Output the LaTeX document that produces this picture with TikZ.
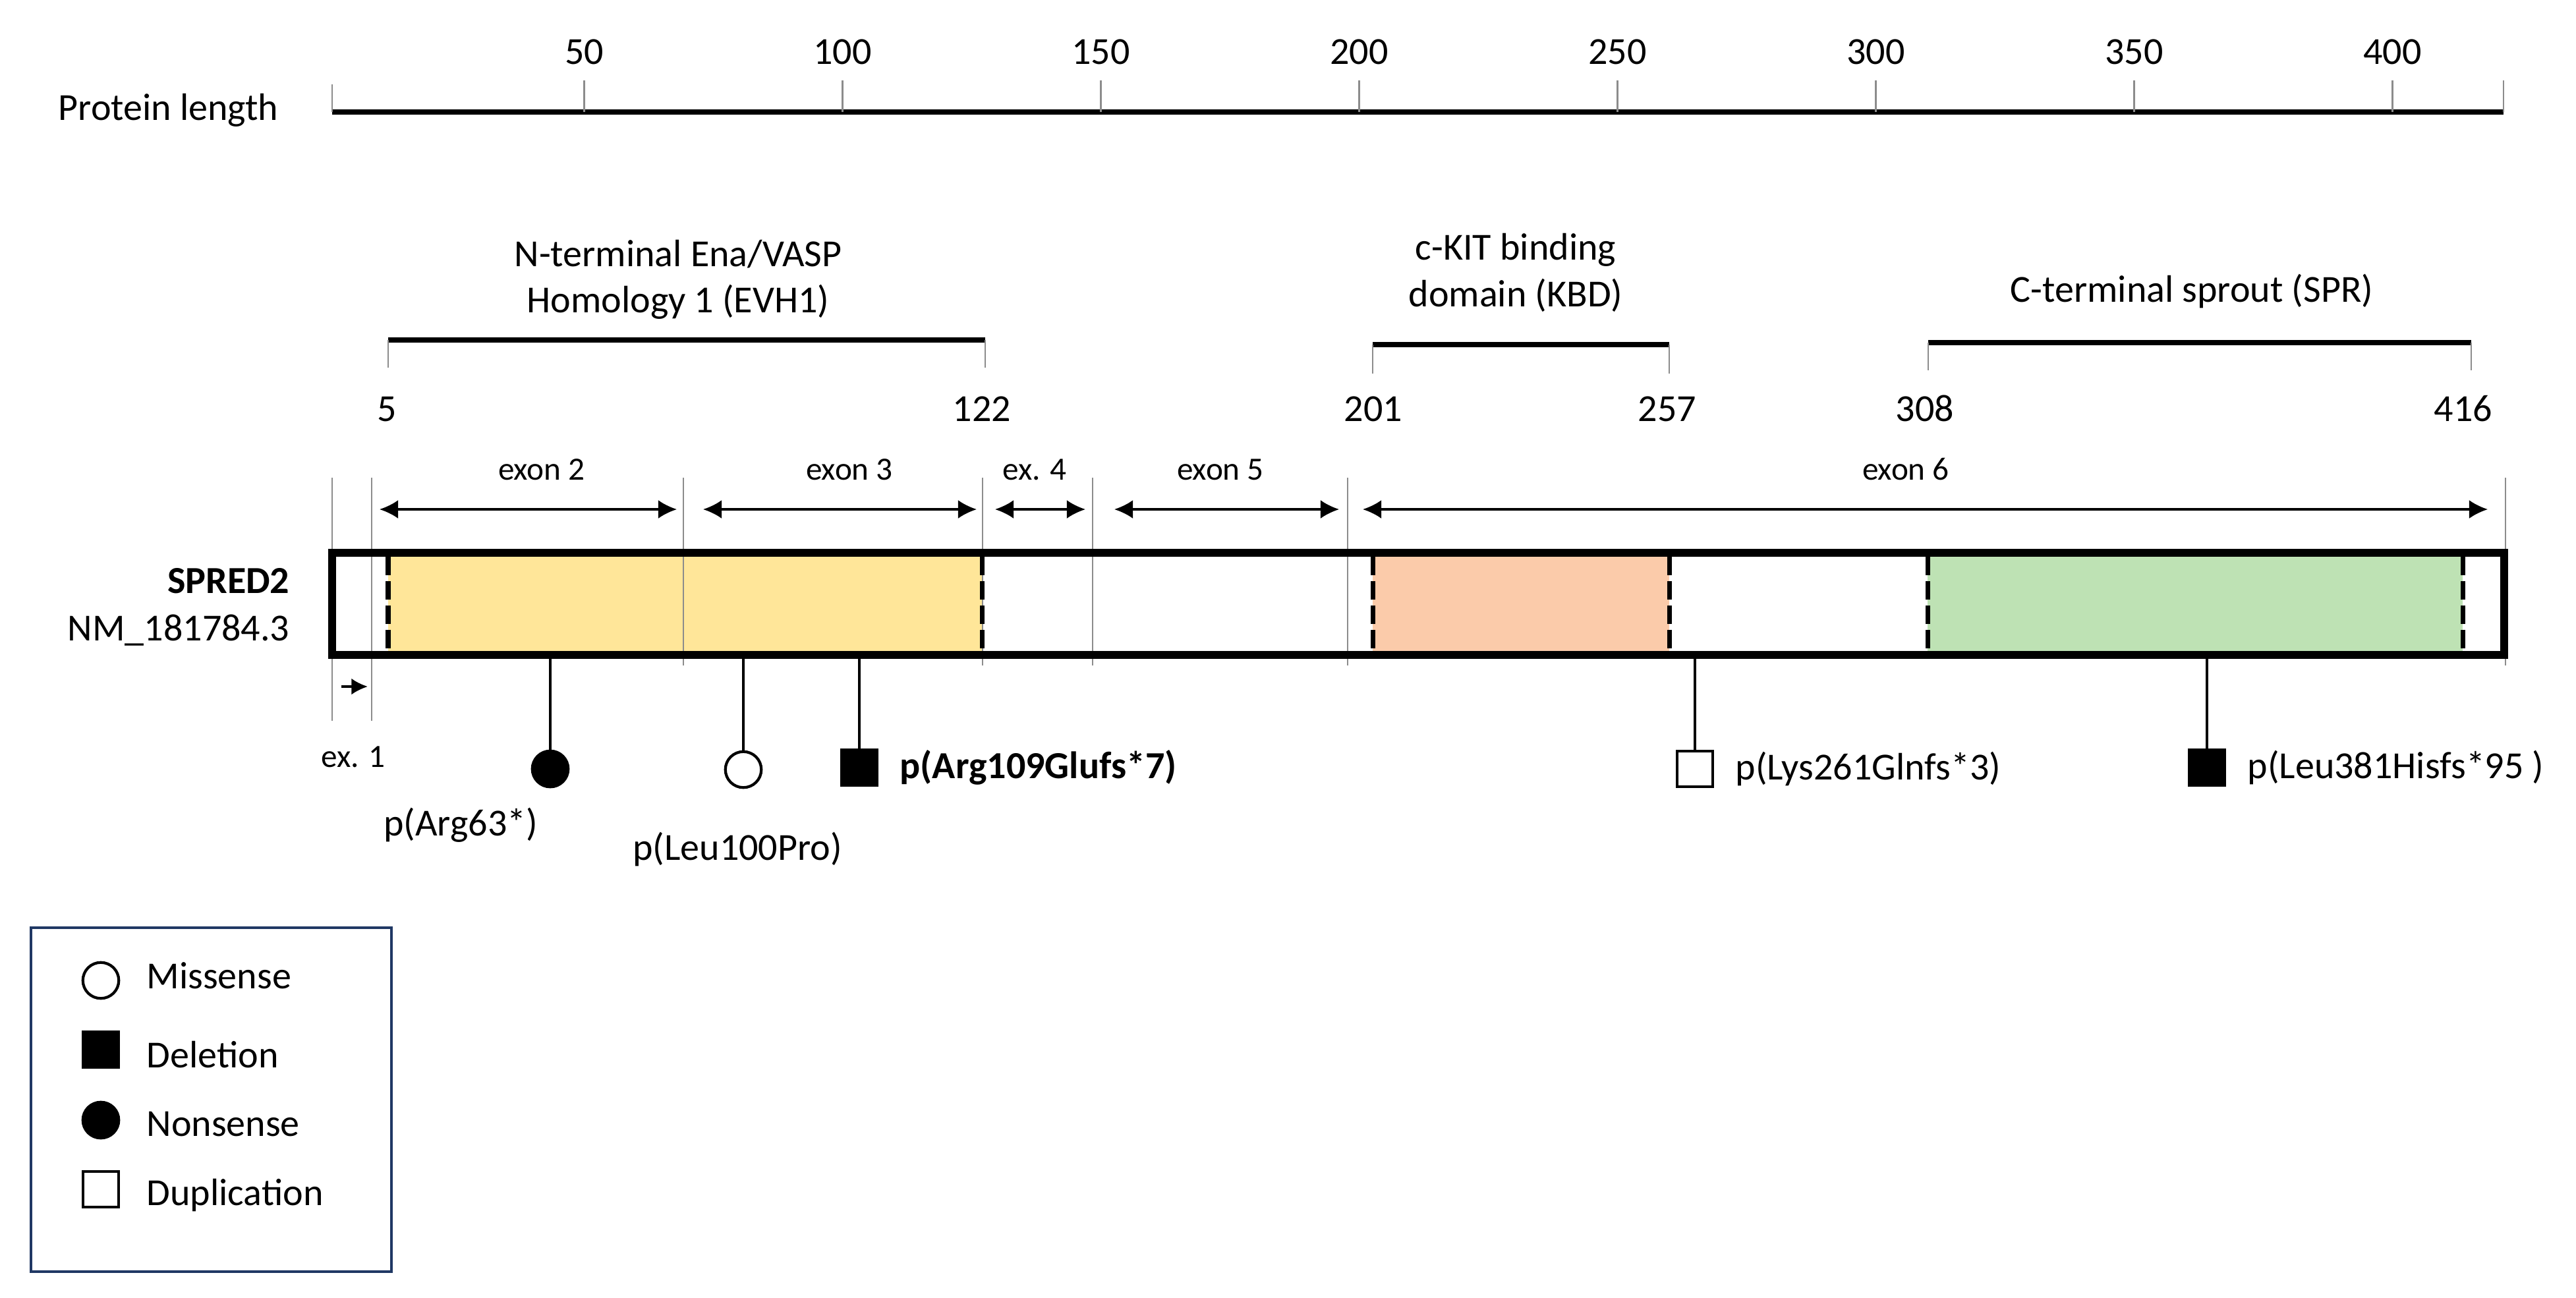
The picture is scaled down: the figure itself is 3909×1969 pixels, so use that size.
\documentclass[tikz,border=0pt]{standalone}
\usepackage{fontspec}
\setmainfont{Carlito}
\usetikzlibrary{positioning, arrows.meta}
\definecolor{evhyellow}{RGB}{255, 230, 153}
\definecolor{kbdpeach}{RGB}{251, 203, 170}
\definecolor{sprgreen}{RGB}{190, 226, 180}
\definecolor{legendblue}{RGB}{32, 56, 100}
\definecolor{guidegray}{RGB}{140, 140, 140}

\begin{document}
\begin{tikzpicture}[x=0.01cm, y=-0.01cm,
        every node/.style={font=\fontsize{16.5}{20}\selectfont, inner sep=0pt},
        small/.style={font=\fontsize{14}{16}\selectfont},
        boldtext/.style={font=\fontsize{16.5}{20}\selectfont\bfseries},
        guide/.style={draw=guidegray, line width=0.6pt},
        tick/.style={draw=guidegray, line width=0.8pt},
        domainbar/.style={line width=2.3pt},
        exonarrow/.style={{Latex[length=8pt,width=8pt]}-{Latex[length=8pt,width=8pt]}, line width=0.9pt},
        domainedge/.style={dash pattern=on 8pt off 2.5pt, line width=2pt},
        stem/.style={line width=0.9pt},
        circmark/.style={circle, draw, line width=1.2pt, minimum size=15.5pt},
        sqmark/.style={rectangle, draw, line width=1.2pt, minimum size=15.5pt}]
    \fill[white] (0,0) rectangle (3909,1969);
    \useasboundingbox (0,0) rectangle (3909,1969);

    % protein length scale
    \node[anchor=base west] (plen) at (88,182) {Protein length};
    \draw[line width=2.3pt] (504,170) -- (3799,170);
    \draw[tick] (504,128) -- (504,170) (3799,122) -- (3799,170);
    \foreach \v in {50,100,...,400} {
        \draw[tick] ({494.6+7.84*\v},122) -- ({494.6+7.84*\v},170);
        \node[anchor=base] (t\v) at ({494.6+7.84*\v},97) {\v};
    }

    % domains
    \node[anchor=south, align=center] (evh) at (1029,485) {N-terminal Ena/VASP\\Homology 1 (EVH1)};
    \node[anchor=south, align=center] (kbd) at (2300,474) {c-KIT binding\\domain (KBD)};
    \node[anchor=base] (spr) at (3326,458) {C-terminal sprout (SPR)};
    \draw[domainbar] (589,516) -- (1495,516);
    \draw[domainbar] (2083,523) -- (2533,523);
    \draw[domainbar] (2926,520) -- (3750,520);
    \draw[tick] (589,516) -- (589,558) (1495,516) -- (1495,558);
    \draw[tick] (2083,523) -- (2083,567) (2533,523) -- (2533,567);
    \draw[tick] (2926,520) -- (2926,562) (3750,520) -- (3750,562);
    \node[anchor=base] (n5) at (587,639) {5};
    \node[anchor=base] (n122) at (1490,639) {122};
    \node[anchor=base] (n201) at (2084,639) {201};
    \node[anchor=base] (n257) at (2530,639) {257};
    \node[anchor=base] (n308) at (2921,639) {308};
    \node[anchor=base] (n416) at (3738,639) {416};

    % exons
    \node[small, anchor=base] (x2) at (822,728) {exon 2};
    \node[small, anchor=base] (x3) at (1289,728) {exon 3};
    \node[small, anchor=base] (x4) at (1570,728) {ex. 4};
    \node[small, anchor=base] (x5) at (1852,728) {exon 5};
    \node[small, anchor=base] (x6) at (2892,728) {exon 6};
    \foreach \n/\a/\b in {2/576/1027, 3/1067/1482, 4/1510/1647, 5/1691/2032, 6/2068/3775} {
        \coordinate (ex\n l) at (\a,773);
        \coordinate (ex\n r) at (\b,773);
        \draw[exonarrow] (ex\n l) -- (ex\n r);
    }

    % protein
    \fill[evhyellow] (589,845) rectangle (1490,988);
    \fill[kbdpeach] (2083,845) rectangle (2533,988);
    \fill[sprgreen] (2925,845) rectangle (3737,988);
    \foreach \x in {1037,1491,1658,2045,3802}
        \draw[guide] (\x,725) -- (\x,1010);
    \foreach \x in {504,564}
        \draw[guide] (\x,725) -- (\x,1094);
    \foreach \x in {589,1490,2083,2533,2925,3737}
        \draw[domainedge] (\x,845) -- (\x,988);
    \node[draw, line width=3.4pt, outer sep=0pt, minimum width=32.94cm, minimum height=1.55cm,
          anchor=north west] (prot) at (504,839) {};
    \node[boldtext, anchor=base east] (gene) at (440,900) {SPRED2};
    \node[anchor=base east] (tx) at (440,972) {NM\_181784.3};
    \coordinate (ex1l) at (518,1042);
    \coordinate (ex1r) at (558,1042);
    \draw[-{Latex[length=7pt,width=7pt]}, line width=0.9pt] (ex1l) -- (ex1r);
    \node[small, anchor=base] (x1) at (536,1164) {ex. 1};

    % variants
    \node[circmark, fill=black] (m63) at (835,1167) {};
    \node[circmark] (m100) at (1128,1168) {};
    \node[sqmark, fill=black] (m109) at (1304,1165) {};
    \node[sqmark] (m261) at (2572,1167) {};
    \node[sqmark, fill=black] (m381) at (3349,1165) {};
    \foreach \m in {m63,m100,m109,m261,m381}
        \draw[stem] (\m) -- (\m |- prot.south);
    \node[anchor=base] (l63) at (699,1268) {p(Arg63*)};
    \node[anchor=base] (l100) at (1119,1305) {p(Leu100Pro)};
    \node[boldtext, right=9pt of m109] (l109) {p(Arg109Glufs*7)};
    \node[right=9pt of m261] (l261) {p(Lys261Glnfs*3)};
    \node[right=9pt of m381] (l381) {p(Leu381Hisfs*95 )};

    % legend
    \node[draw=legendblue, line width=1.1pt, outer sep=0pt, minimum width=5.47cm, minimum height=5.22cm,
          anchor=north west] (legend) at (47,1408) {};
    \node[circmark] (kmis) at (153,1488) {};
    \node[sqmark, fill=black] (kdel) at (153,1593) {};
    \node[circmark, fill=black] (knon) at (153,1700) {};
    \node[sqmark] (kdup) at (153,1805) {};
    \node[anchor=base west] (tmis) at (222,1500) {Missense};
    \node[anchor=base west] (tdel) at (222,1620) {Deletion};
    \node[anchor=base west] (tnon) at (222,1724) {Nonsense};
    \node[anchor=base west] (tdup) at (222,1829) {Duplication};
\end{tikzpicture}
\end{document}
